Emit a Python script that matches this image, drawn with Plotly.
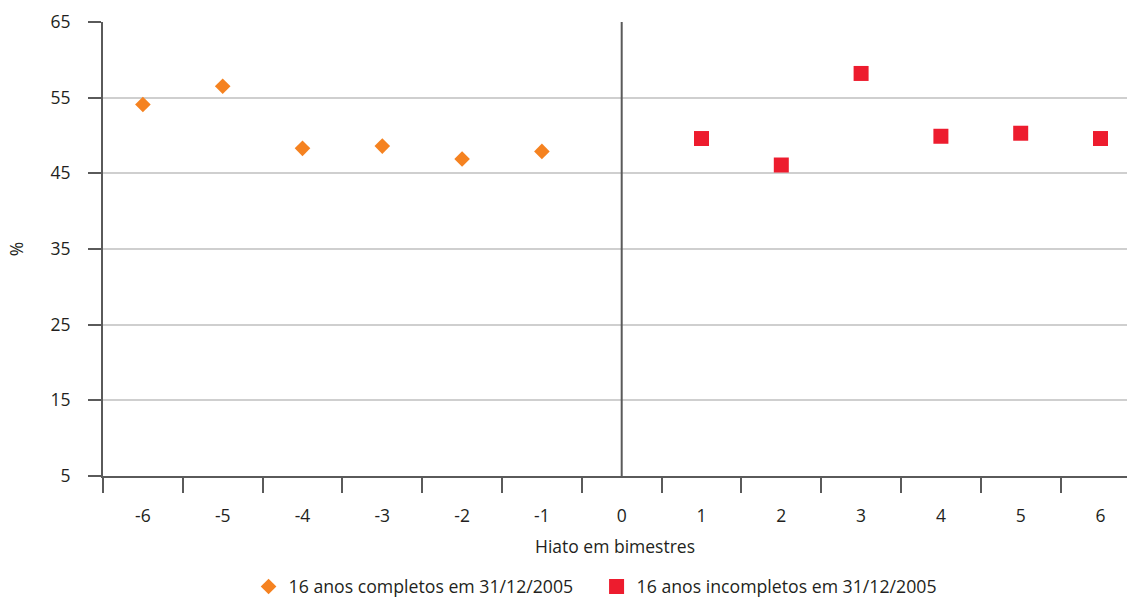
import plotly.graph_objects as go

categories = ["-6", "-5", "-4", "-3", "-2", "-1", "0", "1", "2", "3", "4", "5", "6"]
x_positions = [-6, -5, -4, -3, -2, -1, 0, 1, 2, 3, 4, 5, 6]

completos_x = [-6, -5, -4, -3, -2, -1]
completos_y = [54.1, 56.5, 48.3, 48.6, 46.9, 47.9]

incompletos_x = [1, 2, 3, 4, 5, 6]
incompletos_y = [49.6, 46.1, 58.2, 49.9, 50.3, 49.6]

y_ticks = [5, 15, 25, 35, 45, 55, 65]

FONT = "Open Sans"
TXT = "#231f20"
AX = "#5a5a5a"

fig = go.Figure()
fig.add_trace(go.Scatter(
    x=completos_x, y=completos_y, mode="markers",
    name="16 anos completos em 31/12/2005",
    marker=dict(symbol="diamond", size=12, color="#f58220", line=dict(width=0)),
))
fig.add_trace(go.Scatter(
    x=incompletos_x, y=incompletos_y, mode="markers",
    name="16 anos incompletos em 31/12/2005",
    marker=dict(symbol="square", size=15, color="#ed1c2e", line=dict(width=0)),
))

fig.add_shape(type="line", xref="x", yref="y", x0=0, x1=0, y0=5, y1=65,
              line=dict(color=AX, width=2), layer="above")

boundaries = [v - 0.5 for v in x_positions] + [x_positions[-1] + 0.5]

fig.update_layout(
    template="none",
    width=1127, height=600,
    margin=dict(l=103, r=0, t=22, b=124, pad=0, autoexpand=False),
    paper_bgcolor="white", plot_bgcolor="white",
    font=dict(family=FONT, size=17.5, color=TXT),
    showlegend=True,
    legend=dict(orientation="h", xanchor="center", x=0.482, yref="paper",
                y=-0.2852, yanchor="bottom", font=dict(size=17.7, color=TXT),
                itemwidth=30, entrywidth=303, tracegroupgap=0,
                bgcolor="rgba(0,0,0,0)"),
    xaxis=dict(
        range=[-6.5, -6.5 + 1024 / 79.8],
        tickmode="array", tickvals=x_positions, ticktext=categories,
        ticks="", showgrid=False, zeroline=False,
        showline=True, linecolor=AX, linewidth=2,
        ticklabelstandoff=23,
        minor=dict(tickmode="array", tickvals=boundaries, ticks="outside",
                   ticklen=15, tickcolor=AX, tickwidth=1.5, showgrid=False),
        title=dict(text="Hiato em bimestres", standoff=15, font=dict(size=17.5, color=TXT)),
        automargin=False,
        fixedrange=True,
    ),
    yaxis=dict(
        range=[5, 65],
        tickmode="array", tickvals=y_ticks,
        ticks="outside", ticklen=13, tickcolor=AX, tickwidth=1.5,
        showgrid=True, gridcolor="#cfcfcf", gridwidth=1.5,
        zeroline=False, showline=True, linecolor=AX, linewidth=2,
        ticklabelstandoff=14,
        title=dict(text="%", standoff=22, font=dict(size=17.5, color=TXT)),
        automargin=False,
        fixedrange=True,
    ),
)

fig.write_html(
    "out.html",
    config={"displayModeBar": False},
    post_script="document.body.style.margin='0';document.body.style.overflow='hidden';",
)
